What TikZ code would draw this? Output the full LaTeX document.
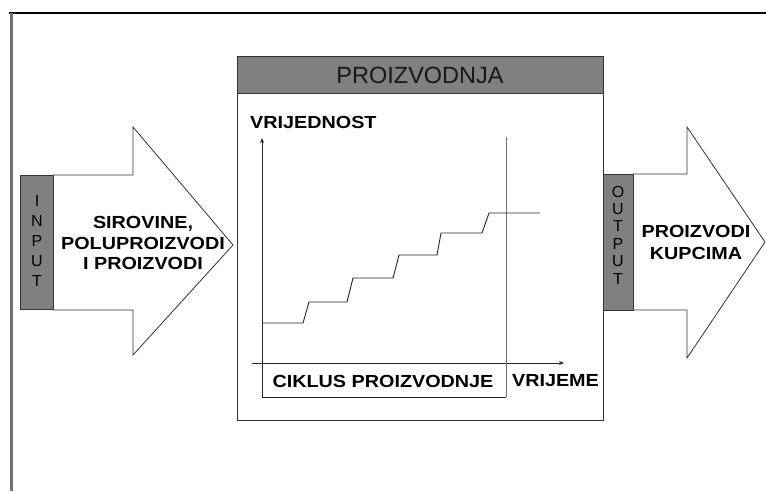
\documentclass[tikz,border=0pt]{standalone}
\usepackage{fontspec}
\setmainfont{Liberation Sans}
\usetikzlibrary{arrows.meta}
\newcommand{\stretchtxt}[1]{\scalebox{1.13}[1]{#1}}
\begin{document}
\begin{tikzpicture}[x=1pt,y=-1pt,
  graybox/.style={draw=black!80,fill=black!50,line width=0.8pt},
  arrowshape/.style={draw=black!80,fill=white,line width=0.8pt,line join=miter},
  boldlbl/.style={font=\fontsize{17.5}{20.5}\selectfont\bfseries,inner sep=0pt,align=center},
  letters/.style={font=\fontsize{16}{20}\selectfont,inner sep=0pt,align=center},
  axis/.style={draw=black!85,line width=0.8pt,-{Stealth[length=5pt,width=4pt]}},
  stepline/.style={draw=black!85,line width=0.9pt}]
\useasboundingbox (0,0) rectangle (766,491);
\fill[white] (0,0) rectangle (766,491);
% outer frame
\coordinate (ftl) at (9,13);
\coordinate (ftr) at (766,13);
\coordinate (fll) at (11,13);
\coordinate (flb) at (11,491);
\draw[black,line width=1.4pt] (ftl) -- (ftr);
\draw[black!55,line width=3pt] (fll) -- (flb);
% input arrow
\draw[arrowshape] (53,175) -- (133,175) -- (133,127) -- (233,245) -- (133,355) -- (133,310) -- (53,310);
\node[graybox,minimum width=33pt,minimum height=134pt,inner sep=0pt] (inbox) at (36.5,242.5) {};
\node[letters,font=\fontsize{16}{20}\selectfont] (inlbl) at (37,241) {I\\N\\P\\U\\T};
\node[boldlbl] (intxt) at (143,243) {\stretchtxt{SIROVINE,}\\\stretchtxt{POLUPROIZVODI}\\\stretchtxt{I PROIZVODI}};
% output arrow
\draw[arrowshape] (633,174) -- (687,174) -- (687,127) -- (765,242) -- (687,358) -- (687,310) -- (633,310);
\node[graybox,minimum width=30pt,minimum height=136pt,inner sep=0pt] (outbox) at (618,242) {};
\node[letters,font=\fontsize{16}{17.4}\selectfont] (outlbl) at (618,235) {O\\U\\T\\P\\U\\T};
\node[boldlbl,font=\fontsize{17.5}{22}\selectfont\bfseries] (outtxt) at (696,242.5) {\stretchtxt{PROIZVODI}\\\stretchtxt{KUPCIMA}};
% production box
\node[draw=black!80,fill=white,line width=0.8pt,minimum width=366pt,minimum height=364pt,inner sep=0pt] (prodbox) at (420,238) {};
\node[graybox,minimum width=366pt,minimum height=37pt,inner sep=0pt] (prodhead) at (420,74.5) {};
\node[font=\fontsize{23.5}{26}\selectfont,inner sep=0pt,text=black!90] (prodlbl) at (420,75) {PROIZVODNJA};
% axes
\coordinate (yb) at (262,397);
\coordinate (yt) at (262,138);
\coordinate (xl) at (252,363);
\coordinate (xr) at (564,363);
\draw[axis] (yb) -- (yt);
\draw[axis] (xl) -- (xr);
\coordinate (vt) at (506,137);
\coordinate (vb) at (506,397);
\draw[black!55,line width=1pt] (vt) -- (vb);
\draw[black!85,line width=0.9pt] (yb) -- (vb);
\node[boldlbl,anchor=west] (ylbl) at (250,122) {\stretchtxt{VRIJEDNOST}};
\node[boldlbl] (cyclbl) at (383,381) {\stretchtxt{CIKLUS PROIZVODNJE}};
\node[boldlbl] (xlbl) at (555.5,381) {\stretchtxt{VRIJEME}};
% step curve
\draw[stepline] (262,323) -- (303,323) -- (309,302) -- (347,302) -- (353,278) -- (393,278) -- (399,255) -- (437,255) -- (441,233) -- (482,233) -- (489,213) -- (540,213);
\end{tikzpicture}
\end{document}
